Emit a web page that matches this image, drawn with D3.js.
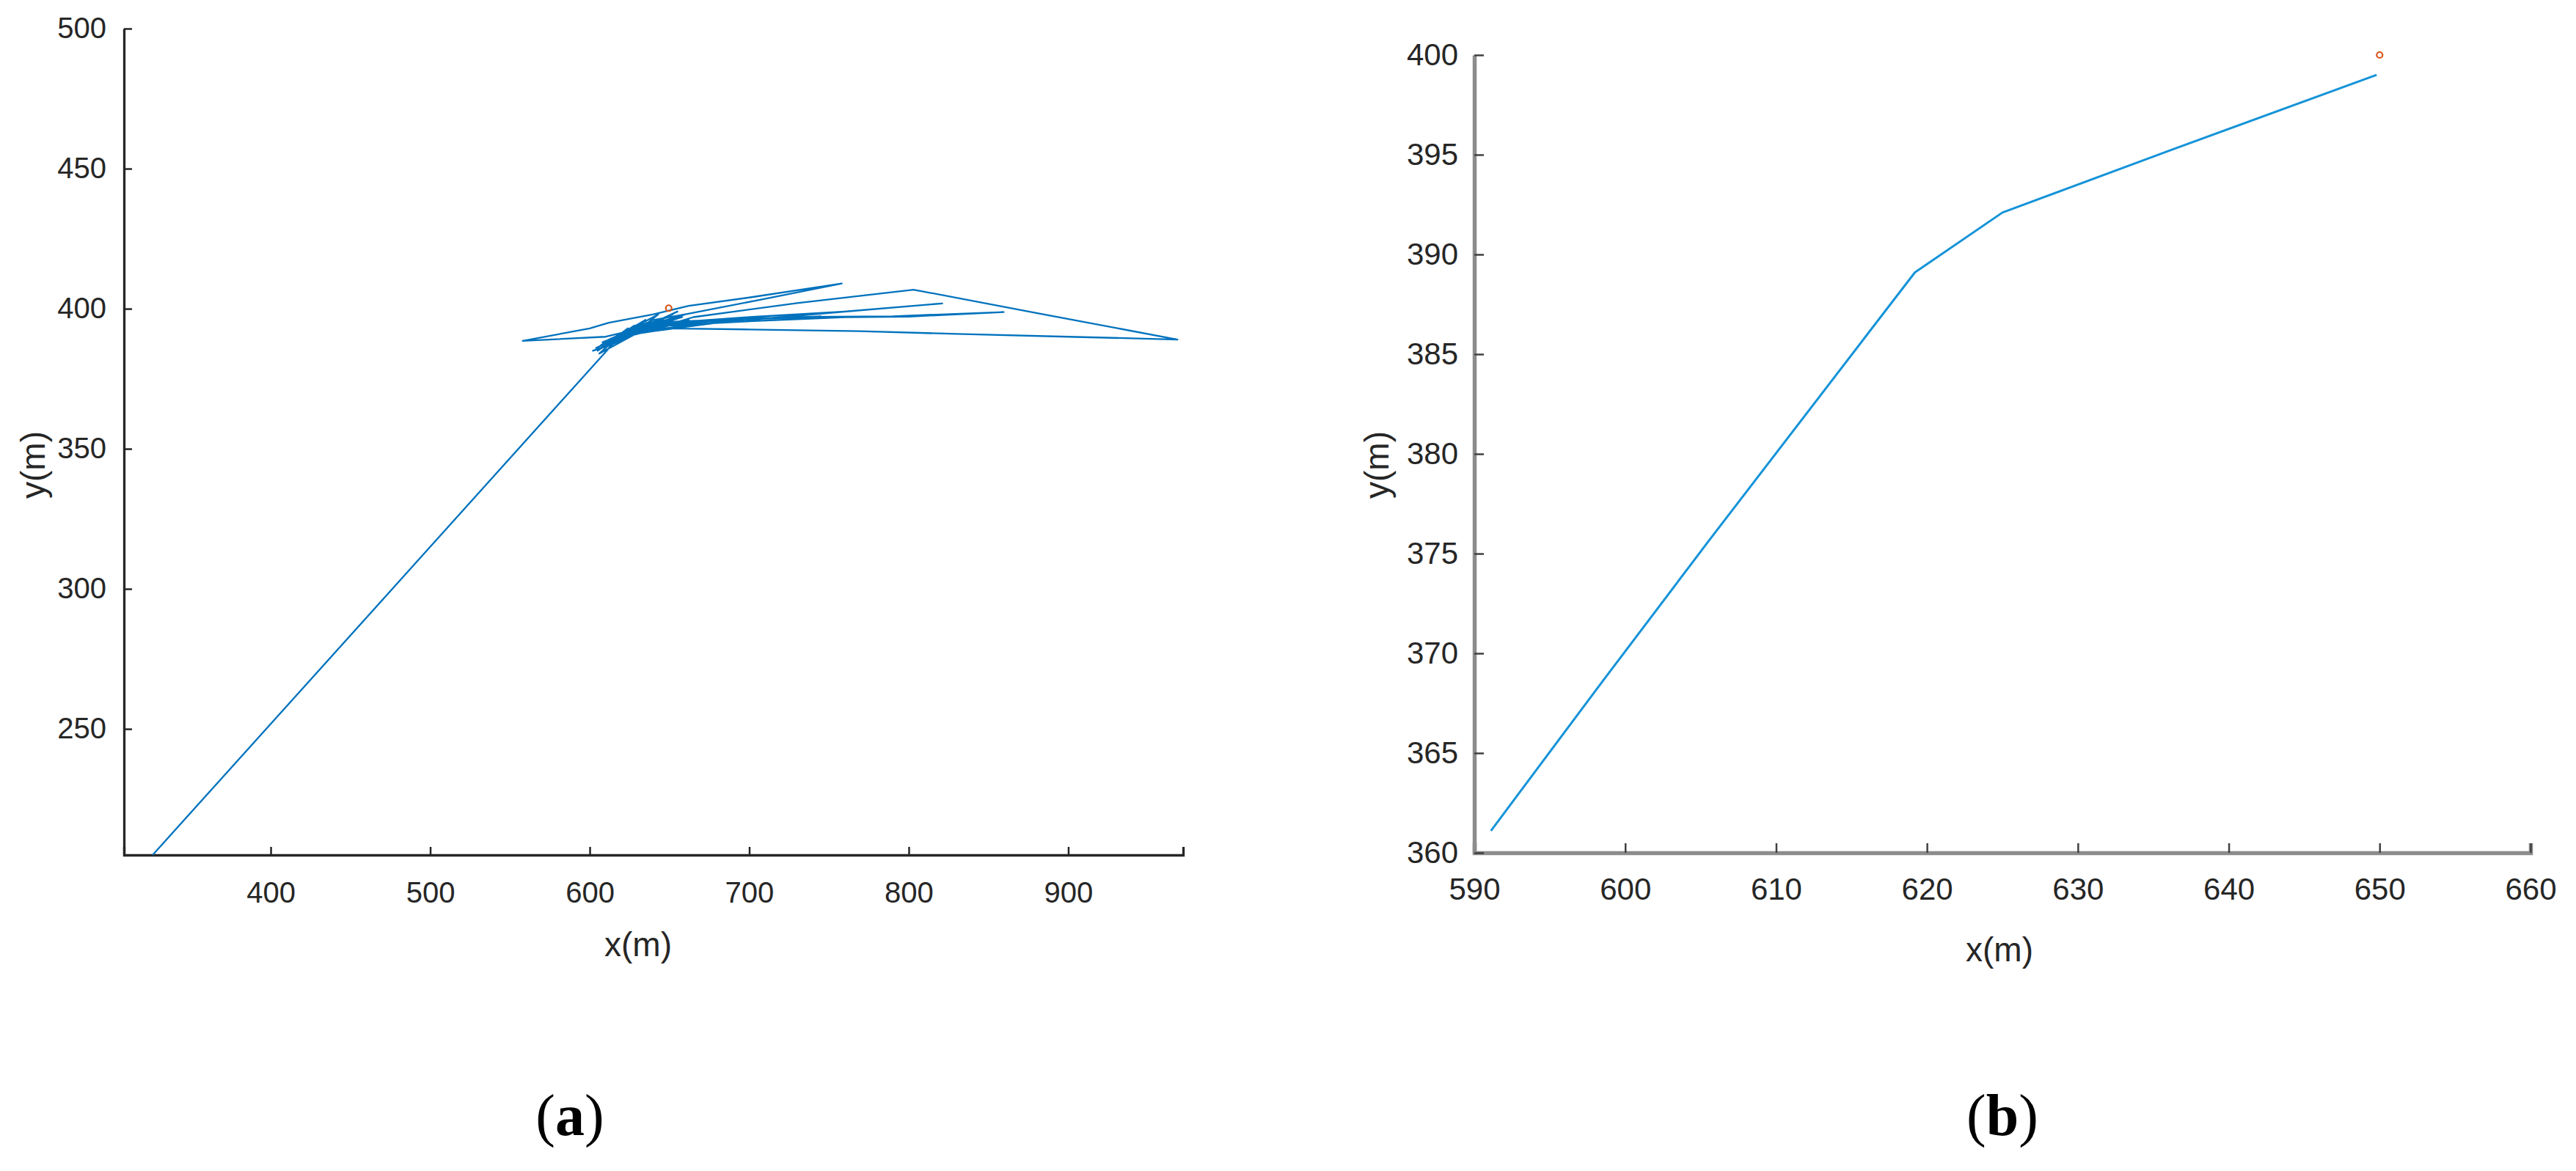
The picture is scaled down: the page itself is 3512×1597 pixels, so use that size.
<!DOCTYPE html>
<html>
<head>
<meta charset="utf-8">
<script src="https://cdn.jsdelivr.net/npm/d3@7"></script>
<style>
  html, body { margin: 0; padding: 0; background: #fff; }
  svg { display: block; }
  .tick text { font-family: "Liberation Sans", Arial, sans-serif; fill: #262626; }
  .ax-title { font-family: "Liberation Sans", Arial, sans-serif; fill: #262626; }
  .panel-label { font-family: "Liberation Serif", "Times New Roman", serif; fill: #000; }
</style>
</head>
<body>
<svg id="chart" width="3512" height="1597"></svg>
<script>
// (a) full trajectory
const trajX = [326, 617, 612, 624, 605, 628, 615, 635, 620, 643, 632, 610, 558, 600, 612, 640, 662, 700, 758, 705, 660, 640, 625, 608, 630,
  665, 730, 803, 880, 968.5, 900, 830, 769, 700, 650, 618, 640, 680, 750, 821, 760, 700, 650, 622, 660, 720, 790, 859.5, 800, 760, 700, 650,
  628, 613, 602, 616, 622, 608, 630, 645, 655, 640, 625, 618,
  636, 612, 648, 620, 642, 614, 652, 626, 604, 633, 658, 618, 646, 610, 640, 662, 624, 650, 616, 638, 655, 622, 607, 644, 630, 660, 612, 636,
  700, 745, 690, 640, 628, 652, 618, 606, 632, 648, 620];
const trajY = [205, 389, 386, 393, 385, 394, 389, 396, 391, 398, 393, 390, 388.5, 393, 395, 398, 401, 404, 409, 403, 398, 396, 392, 388, 391,
  397, 402, 406.8, 398.5, 389, 390, 391, 392, 392.6, 393, 390, 392, 395, 398.5, 401.9, 399, 397, 395, 391, 394, 397, 397.3, 398.8, 397.2, 397, 395.5, 394,
  391, 387, 385, 388, 391, 386.5, 392, 396, 399, 395, 392, 390,
  394, 388, 397, 391, 395, 389, 398, 392, 386, 394, 397, 390, 396, 388, 393, 396, 391, 395, 389, 393, 397, 392, 387, 396, 393, 398, 389, 395,
  396.5, 397.2, 396, 394, 391, 396, 390, 384, 392, 395, 389];
const targetA = [649.5, 400.2];

// (b) zoomed start of the trajectory
const zoomX = [591.1, 598.5, 605.5, 619.2, 625.0, 636.4, 649.8];
const zoomY = [361.1, 368.6, 375.6, 389.1, 392.1, 395.3, 399.0];
const targetB = [650, 400];

const ticksAX = [400, 500, 600, 700, 800, 900];
const ticksAY = [250, 300, 350, 400, 450, 500];
const ticksBX = [590, 600, 610, 620, 630, 640, 650, 660];
const ticksBY = [360, 365, 370, 375, 380, 385, 390, 395, 400];

const svg = d3.select('#chart');

function drawPanel(cfg) {
    const x = d3.scaleLinear().domain(cfg.xDomain).range(cfg.xRange);
    const y = d3.scaleLinear().domain(cfg.yDomain).range(cfg.yRange);
    const g = svg.append('g');

    // axes (ticks point inward, MATLAB style)
    const xAxis = d3.axisBottom(x).tickValues(cfg.xTicks).tickFormat(d3.format('d'))
        .tickSizeInner(-cfg.tickLen).tickSizeOuter(-cfg.tickLen).tickPadding(cfg.xPad);
    const yAxis = d3.axisLeft(y).tickValues(cfg.yTicks).tickFormat(d3.format('d'))
        .tickSizeInner(-cfg.tickLen).tickSizeOuter(0).tickPadding(cfg.yPad);

    const gx = g.append('g').attr('transform', `translate(0,${cfg.yRange[0]})`).call(xAxis);
    const gy = g.append('g').attr('transform', `translate(${cfg.xRange[0]},0)`).call(yAxis);

    [gx, gy].forEach(a => {
        a.select('.domain').attr('stroke', cfg.axisColor).attr('stroke-width', cfg.axisWidth);
        a.selectAll('.tick line').attr('stroke', cfg.tickColor).attr('stroke-width', 2.5);
        a.selectAll('.tick text').style('font-size', cfg.fontSize + 'px');
    });

    // data line
    const pts = cfg.xs.map((v, i) => [v, cfg.ys[i]]);
    g.append('path')
        .datum(pts)
        .attr('fill', 'none')
        .attr('stroke', cfg.lineColor)
        .attr('stroke-width', cfg.lineWidth)
        .attr('stroke-linejoin', 'round')
        .attr('d', d3.line().x(d => x(d[0])).y(d => y(d[1])));

    // target marker
    g.append('circle')
        .attr('cx', x(cfg.target[0]))
        .attr('cy', y(cfg.target[1]))
        .attr('r', 4)
        .attr('fill', 'none')
        .attr('stroke', '#D95319')
        .attr('stroke-width', 2.2);

    // axis titles
    g.append('text').attr('class', 'ax-title')
        .attr('x', cfg.xTitle[0]).attr('y', cfg.xTitle[1]).attr('dy', '0.35em')
        .attr('text-anchor', 'middle').style('font-size', '46px').text('x(m)');
    g.append('text').attr('class', 'ax-title')
        .attr('transform', `translate(${cfg.yTitle[0]},${cfg.yTitle[1]}) rotate(-90)`)
        .attr('dy', '0.35em').attr('text-anchor', 'middle').style('font-size', '46px').text('y(m)');

    // panel label
    const lab = g.append('text').attr('class', 'panel-label')
        .attr('x', cfg.label[0]).attr('y', cfg.label[1])
        .attr('text-anchor', 'middle').style('font-size', '80px');
    lab.append('tspan').text('(');
    lab.append('tspan').attr('font-weight', 'bold').text(cfg.labelText);
    lab.append('tspan').text(')');
}

drawPanel({
    xs: trajX, ys: trajY, target: targetA,
    xDomain: [308, 972], yDomain: [205, 500],
    xRange: [169, 1613], yRange: [1166, 39],
    xTicks: ticksAX, yTicks: ticksAY,
    tickLen: 11, xPad: 37, yPad: 24, fontSize: 40,
    axisColor: '#262626', axisWidth: 3.3, tickColor: '#262626',
    lineColor: '#0072BD', lineWidth: 2.3,
    xTitle: [870, 1288], yTitle: [45, 634],
    label: [777, 1548], labelText: 'a'
});

drawPanel({
    xs: zoomX, ys: zoomY, target: targetB,
    xDomain: [590, 660], yDomain: [360, 400],
    xRange: [2010, 3450], yRange: [1163, 75],
    xTicks: ticksBX, yTicks: ticksBY,
    tickLen: 13, xPad: 34, yPad: 22, fontSize: 42,
    axisColor: '#8c8c8c', axisWidth: 5.5, tickColor: '#404040',
    lineColor: '#1593D8', lineWidth: 3,
    xTitle: [2726, 1295], yTitle: [1877, 634],
    label: [2730, 1548], labelText: 'b'
});
</script>
</body>
</html>
